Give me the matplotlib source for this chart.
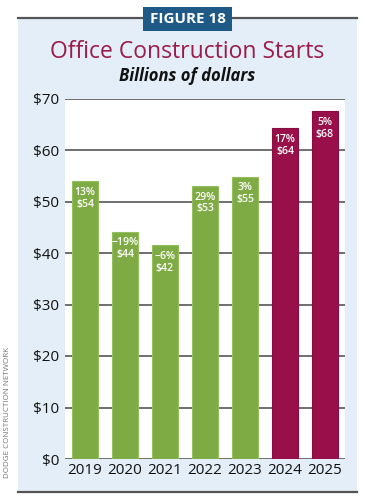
import matplotlib.pyplot as plt
from matplotlib.patches import Rectangle
from matplotlib.lines import Line2D

years = ['2019', '2020', '2021', '2022', '2023', '2024', '2025']
values = [53.9, 44.1, 41.5, 53.0, 54.8, 64.2, 67.5]
pct_labels = ['13%', '\u221219%', '\u22126%', '29%', '3%', '17%', '5%']
val_labels = ['$54', '$44', '$42', '$53', '$55', '$64', '$68']
forecast = [False, False, False, False, False, True, True]
yticks = [0, 10, 20, 30, 40, 50, 60, 70]

green = '#7fab45'
crimson = '#990f4a'
plt.rcParams['font.family'] = ['Open Sans', 'DejaVu Sans']

fig = plt.figure(figsize=(3.65, 5.0), dpi=100)
fig.patch.set_facecolor('white')

# light blue panel and frame lines
fig.patches.append(Rectangle((18 / 365, 1 - 492 / 500), 339 / 365, 474 / 500,
                             transform=fig.transFigure, facecolor='#e3eef8',
                             edgecolor='none', zorder=-10))
for yy in [1 - 18 / 500, 1 - 492 / 500]:
    fig.lines.append(Line2D([18 / 365, 357 / 365], [yy, yy], transform=fig.transFigure,
                            color='#555555', lw=1.6, zorder=-5))

# figure badge
fig.patches.append(Rectangle((143 / 365, 1 - 31 / 500), 89 / 365, 24 / 500,
                             transform=fig.transFigure, facecolor='#1f5a86',
                             edgecolor='none', zorder=-4))
fig.text(187.5 / 365, 1 - 19 / 500, 'FIGURE 18', color='white', fontsize=11,
         fontweight='bold', ha='center', va='center')

fig.text(187.5 / 365, 1 - 52 / 500, 'Office Construction Starts', color='#9b1b4b',
         fontsize=16.5, ha='center', va='center')
fig.text(187.5 / 365, 1 - 76 / 500, 'Billions of dollars', color='#111111',
         fontsize=12, fontweight='bold', style='italic', ha='center', va='center')

fig.text(8 / 365, 1 - 413 / 500, 'DODGE CONSTRUCTION NETWORK', color='#777777',
         fontsize=5.8, rotation=90, ha='center', va='center')

ax = fig.add_axes([65 / 365, 1 - 459 / 500, 280 / 365, 360.5 / 500])
ax.set_zorder(5)
ax.set_facecolor('white')

colors = [crimson if f else green for f in forecast]
edges = ['#8a0d42' if f else '#95bf5e' for f in forecast]
x = list(range(len(years)))
ax.bar(x, values, width=0.65, color=colors, edgecolor=edges, linewidth=0.8, zorder=3)

for i, v in enumerate(values):
    ax.annotate(pct_labels[i] + '\n' + val_labels[i], (i, v), xytext=(0, -4),
                textcoords='offset points', ha='center', va='top', color='white',
                fontsize=7.6, fontweight='semibold', linespacing=1.1, zorder=4)

ax.set_xlim(-0.5, 6.5)
ax.set_ylim(0, 70)
ax.set_yticks(yticks)
ax.set_yticklabels(['$' + str(t) for t in yticks], fontsize=11, color='#111111')
ax.set_xticks(x)
ax.set_xticklabels(years, fontsize=11, color='#111111')
ax.tick_params(axis='both', length=0, pad=4)
ax.tick_params(axis='x', pad=3)
ax.grid(axis='y', color='#555555', lw=1.2, zorder=1)
ax.set_axisbelow(True)
for s in ax.spines.values():
    s.set_visible(False)

fig.savefig('out.png', dpi=100)
